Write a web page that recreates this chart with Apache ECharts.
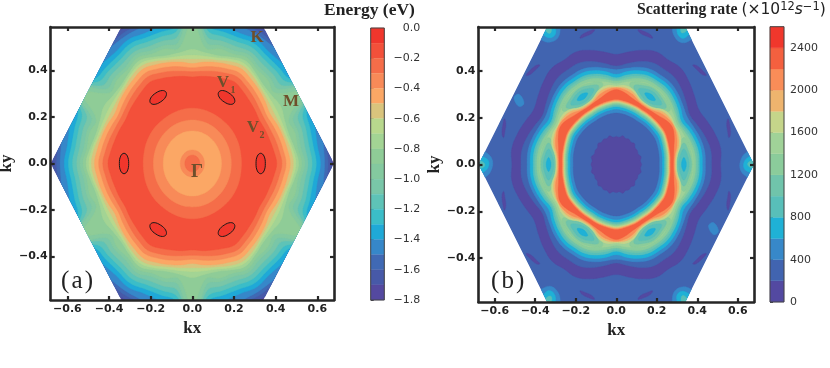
<!DOCTYPE html>
<html>
<head>
<meta charset="utf-8">
<style>html,body{margin:0;padding:0;background:#fff}#chart{width:830px;height:368px}</style>
<script src="https://cdn.jsdelivr.net/npm/echarts@6/dist/echarts.min.js"></script>
</head>
<body>
<div id="chart"></div>
<script>
const xTicks = [-0.6, -0.4, -0.2, 0, 0.2, 0.4, 0.6];
const yTicks = [-0.4, -0.2, 0, 0.2, 0.4];
const energyTicks = [0, -0.2, -0.4, -0.6, -0.8, -1.0, -1.2, -1.4, -1.6, -1.8];
const rateTicks = [0, 400, 800, 1200, 1600, 2000, 2400];

// colourbar bands: energy from 0 eV downwards, rate from 0 upwards
const energyColors = ['#f0362c','#f3503a','#f56d49','#f88a58','#fba765','#d9c47d','#b8d88d','#a3d494','#8fcc97',
  '#84c99f','#79c6a8','#5ec3b7','#3bbdc8','#1fa9d7','#3687c9','#4069b4','#4759a8','#5449a0'];
const rateColors = ['#5349a1','#4164b0','#3788c9','#1fb1d6','#58bfb9','#70c4ab','#8bcc9b','#a0d298','#c5d58a',
  '#eeb46e','#f98d58','#f4603f','#f0372c'];

// hexagonal zone corners in k units
const zoneCorners = [[0.68,0],[0.34,0.589],[-0.34,0.589],[-0.68,0],[-0.34,-0.589],[0.34,-0.589]];

// contour radius read at 0, 7.5, 15, 22.5, 30 degrees from kx (K to M), the rest follows the hexagon's mirrors
// first number is the band painted inside that contour, rows go from outside in
const energyContours = [
  [16, .668,.700,.700,.700,.700],
  [15, .652,.650,.680,.700,.700],
  [14, .635,.635,.650,.700,.700],
  [13, .615,.605,.610,.630,.700],
  [12, .595,.585,.585,.595,.700],
  [11, .575,.565,.565,.575,.700],
  [10, .555,.545,.545,.550,.700],
  [9,  .540,.525,.525,.525,.700],
  [8,  .525,.510,.510,.500,.605],
  [7,  .510,.495,.480,.480,.490],
  [6,  .497,.485,.470,.465,.465],
  [5,  .485,.475,.460,.452,.448],
  [4,  .470,.460,.450,.440,.430],
  [3,  .450,.440,.430,.420,.412],
  [2,  .430,.420,.410,.400,.395],
  [1,  .405,.395,.385,.378,.372],
  [2,  .236,.236,.237,.238,.238],
  [3,  .187,.187,.187,.187,.187],
  [4,  .140,.140,.140,.140,.140],
  [3,  .058,.058,.058,.058,.058],
  [2,  .036,.036,.036,.036,.036]
];
// valley pocket outline around its centre on the kx axis
const valleyCentre = 0.328;
const valleyOutline = [[0,.044],[.016,.032],[.0223,0],[.016,-.032],[0,-.044],[-.016,-.032],[-.0223,0],[-.016,.032]];

const rateContours = [
  [0,  .515,.520,.505,.485,.470],
  [1,  .470,.470,.455,.435,.420],
  [2,  .440,.440,.430,.415,.405],
  [3,  .425,.425,.415,.400,.385],
  [4,  .410,.410,.400,.385,.370],
  [5,  .402,.400,.390,.375,.362],
  [6,  .392,.390,.380,.365,.355],
  [7,  .380,.378,.365,.355,.345],
  [8,  .298,.305,.330,.340,.335],
  [9,  .292,.298,.320,.330,.330],
  [10, .287,.292,.310,.322,.328],
  [11, .282,.286,.295,.310,.320],
  [10, .266,.268,.270,.273,.276],
  [9,  .262,.264,.266,.269,.272],
  [8,  .258,.260,.262,.265,.268],
  [7,  .254,.256,.258,.261,.264],
  [6,  .250,.252,.254,.257,.260],
  [5,  .246,.248,.250,.253,.256],
  [4,  .242,.244,.246,.249,.252],
  [3,  .236,.238,.240,.243,.246],
  [2,  .226,.228,.230,.232,.235],
  [1,  .212,.214,.216,.218,.220],
  [0,  .125,.120,.127,.117,.120]
];
// patches given on the +kx side, repeated every 60 degrees
const rateStreaks = [
  [0, [[.552,.195],[.560,.170],[.564,.130],[.556,.115],[.550,.140],[.545,.175]]],
  [0, [[.552,-.195],[.560,-.170],[.564,-.130],[.556,-.115],[.550,-.140],[.545,-.175]]]
];
const rateTips = [
  [2, [[.680,.062],[.640,.050],[.615,.020],[.612,-.020],[.640,-.050],[.680,-.062]]],
  [3, [[.680,.036],[.650,.030],[.630,.008],[.632,-.018],[.655,-.032],[.680,-.036]]],
  [4, [[.680,.014],[.660,.014],[.648,.002],[.660,-.012],[.680,-.014]]]
];
// these two sit at one place each, not repeated
const rateSpots = [
  [2, [[-.505,.285],[-.480,.300],[-.455,.262],[-.480,.248]]],
  [2, [[.505,-.285],[.480,-.300],[.455,-.262],[.480,-.248]]]
];
const ratePockets = [
  [6, [[.334,.115],[.364,.070],[.378,0],[.364,-.070],[.334,-.115],[.306,-.070],[.292,0],[.306,.070]]],
  [5, [[.334,.092],[.358,.054],[.372,0],[.358,-.054],[.334,-.092],[.310,-.054],[.298,0],[.310,.054]]],
  [4, [[.334,.066],[.352,.038],[.360,0],[.352,-.038],[.334,-.066],[.316,-.038],[.308,0],[.316,.038]]],
  [3, [[.334,.030],[.343,.016],[.346,0],[.343,-.016],[.334,-.030],[.325,-.016],[.322,0],[.325,.016]]]
];

function ringPoints(row) {
  const pts = [];
  for (let s = 0; s < 12; s++) {
    for (let i = 0; i < 4; i++) {
      const r = s % 2 === 0 ? row[1 + i] : row[5 - i];
      const a = (s * 30 + i * 7.5) * Math.PI / 180;
      pts.push([r * Math.cos(a), r * Math.sin(a)]);
    }
  }
  return pts;
}
function turned(pts, deg) {
  const a = deg * Math.PI / 180, c = Math.cos(a), s = Math.sin(a);
  return pts.map(p => [p[0] * c - p[1] * s, p[0] * s + p[1] * c]);
}
const sixTurns = [0, 60, 120, 180, 240, 300];
const repeated = list => sixTurns.flatMap(deg => list.map(p => ({ band: p[0], pts: turned(p[1], deg) })));

const energyShapes = [{ band: 17, pts: zoneCorners, sharp: true }]
  .concat(energyContours.map(row => ({ band: row[0], pts: ringPoints(row) })))
  .concat(sixTurns.map(deg => ({
    band: 0, line: true,
    pts: turned(valleyOutline.map(p => [p[0] + valleyCentre, p[1]]), deg)
  })));

const rateShapes = [{ band: 1, pts: zoneCorners, sharp: true }]
  .concat(repeated(rateStreaks), repeated(rateTips), rateSpots.map(p => ({ band: p[0], pts: p[1] })))
  .concat(rateContours.slice(0, 8).map(row => ({ band: row[0], pts: ringPoints(row) })))
  .concat(repeated(ratePockets))
  .concat(rateContours.slice(8).map(row => ({ band: row[0], pts: ringPoints(row) })));

function contourSeries(idx, shapes, colors) {
  return {
    type: 'custom', xAxisIndex: idx, yAxisIndex: idx, clip: true, silent: true, z: 1,
    coordinateSystem: 'cartesian2d',
    data: shapes.map((s, i) => [i]),
    renderItem: (params, api) => {
      const s = shapes[api.value(0)];
      return {
        type: 'polygon',
        shape: { points: s.pts.map(p => api.coord(p)), smooth: s.sharp ? 0 : 0.4 },
        style: { fill: colors[s.band], stroke: s.line ? '#1a1a1a' : colors[s.band], lineWidth: s.line ? 1 : 0.4 },
        clipPath: { type: 'polygon', shape: { points: zoneCorners.map(p => api.coord(p)) } }
      };
    }
  };
}
function barSeries(idx, edgeOf, colors) {
  const cells = colors.map((c, i) => [edgeOf(i), edgeOf(i + 1), i]);
  return {
    type: 'custom', xAxisIndex: idx, yAxisIndex: idx, silent: true, coordinateSystem: 'cartesian2d',
    data: cells.concat([[edgeOf(0), edgeOf(colors.length), -1]]),
    renderItem: (params, api) => {
      const a = api.coord([0, api.value(0)]), b = api.coord([1, api.value(1)]);
      const band = api.value(2);
      return {
        type: 'rect',
        shape: { x: a[0], y: Math.min(a[1], b[1]), width: b[0] - a[0], height: Math.abs(b[1] - a[1]) },
        style: band < 0 ? { fill: 'none', stroke: '#444', lineWidth: 1 } : { fill: colors[band], stroke: colors[band], lineWidth: 0.3 }
      };
    }
  };
}

const minus = v => String(v).replace('-', '\u2212');
const tickFmt = v => minus(v.toFixed(1));
const frame = { show: true, onZero: false, lineStyle: { color: '#262626', width: 2.6 } };
const axisName = { fontFamily: 'Liberation Serif', fontWeight: 'bold', fontSize: 17, color: '#222' };
const boldTick = { formatter: tickFmt, fontFamily: 'DejaVu Sans', fontWeight: 'bold', fontSize: 11, color: '#222' };
function xAxisOf(grid, name, gap, side) {
  return {
    type: 'value', gridIndex: grid, min: -0.68, max: 0.68, position: side, z: 10,
    name, nameLocation: 'middle', nameGap: gap, nameTextStyle: axisName,
    axisLine: frame, splitLine: { show: false },
    axisTick: { show: true, inside: true, length: 4, customValues: xTicks, lineStyle: { color: '#262626', width: 2.2 } },
    axisLabel: side === 'bottom' ? Object.assign({ customValues: xTicks, margin: 4 }, boldTick) : { show: false, customValues: xTicks }
  };
}
function yAxisOf(grid, name, gap, side) {
  return {
    type: 'value', gridIndex: grid, min: -0.587, max: 0.587, position: side, z: 10,
    name, nameLocation: 'middle', nameGap: gap, nameTextStyle: axisName,
    axisLine: frame, splitLine: { show: false },
    axisTick: { show: true, inside: true, length: 4, customValues: yTicks, lineStyle: { color: '#262626', width: 2.2 } },
    axisLabel: side === 'left' ? Object.assign({ customValues: yTicks, margin: 3 }, boldTick) : { show: false, customValues: yTicks }
  };
}
function barXAxis(grid) {
  return { type: 'value', gridIndex: grid, min: 0, max: 1, show: false };
}
function barYAxis(grid, min, max, ticks, fmt, margin, align) {
  return {
    type: 'value', gridIndex: grid, min, max, position: 'right',
    axisLine: { show: false }, splitLine: { show: false },
    axisTick: { show: true, length: 3, customValues: ticks, lineStyle: { color: '#444', width: 1 } },
    axisLabel: { customValues: ticks, formatter: fmt, margin, align, fontFamily: 'DejaVu Sans', fontSize: 11, color: '#333' }
  };
}

const brown = '#6e4f2b';
const mark = (x, y, text, size) => ({
  type: 'text', x, y, silent: true, z: 100,
  style: { text, fill: brown, font: 'bold ' + size + 'px "Liberation Serif"', align: 'center', verticalAlign: 'middle' }
});
const panelTag = (x, text) => ({
  type: 'text', x, y: 281, silent: true, z: 100,
  style: { text, fill: '#222', font: '25px "Liberation Serif"', align: 'center', verticalAlign: 'middle' }
});

const chart = echarts.init(document.getElementById('chart'), null, { renderer: 'canvas' });
chart.setOption({
  animation: false,
  backgroundColor: '#fff',
  grid: [
    { left: 50.7, top: 27, width: 283.3, height: 273, outerBoundsMode: 'none' },
    { left: 478.5, top: 27, width: 275.5, height: 275, outerBoundsMode: 'none' },
    { left: 370.7, top: 28, width: 13.6, height: 272, outerBoundsMode: 'none' },
    { left: 770, top: 26.7, width: 14, height: 275.3, outerBoundsMode: 'none' }
  ],
  xAxis: [xAxisOf(0, 'kx', 8, 'bottom'), xAxisOf(1, 'kx', 8, 'bottom'), barXAxis(2), barXAxis(3),
    xAxisOf(0, '', 0, 'top'), xAxisOf(1, '', 0, 'top')],
  yAxis: [yAxisOf(0, 'ky', 30, 'left'), yAxisOf(1, 'ky', 14, 'left'),
    barYAxis(2, -1.8, 0, energyTicks, tickFmt, 36, 'right'),
    barYAxis(3, 0, 2600, rateTicks, v => String(v), 6, 'left'),
    yAxisOf(0, '', 0, 'right'), yAxisOf(1, '', 0, 'right')],
  series: [
    contourSeries(0, energyShapes, energyColors),
    contourSeries(1, rateShapes, rateColors),
    barSeries(2, i => -i * 0.1, energyColors),
    barSeries(3, i => i * 200, rateColors),
    // empty series keep the mirrored frame axes alive
    { type: 'line', xAxisIndex: 4, yAxisIndex: 4, data: [] },
    { type: 'line', xAxisIndex: 5, yAxisIndex: 5, data: [] }
  ],
  graphic: [
    { type: 'text', x: 324, y: 10, silent: true, style: { text: 'Energy (eV)', fill: '#222', font: 'bold 17.5px "Liberation Serif"', verticalAlign: 'middle' } },
    { type: 'text', x: 637, y: 10, silent: true, style: {
      text: '{b|Scattering rate }{m|(\u00d710}{u|12}{i|s}{u|\u22121}{m|)}', verticalAlign: 'middle', fill: '#222',
      rich: {
        b: { font: 'bold 15.8px "Liberation Serif"', fill: '#222' },
        m: { font: '15.5px "DejaVu Sans"', fill: '#222' },
        i: { font: 'italic 15.5px "DejaVu Sans"', fill: '#222' },
        u: { font: '11.5px "DejaVu Sans"', fill: '#222', verticalAlign: 'top', lineHeight: 18 }
      }
    } },
    panelTag(77, '(\u200aa\u200a)'),
    panelTag(507.7, '(\u200ab\u200a)'),
    mark(257, 38, 'K', 17),
    mark(223, 83, 'V', 17), mark(233, 90, '1', 10),
    mark(291, 102, 'M', 17),
    mark(253, 128, 'V', 17), mark(262, 135, '2', 10),
    mark(197, 172, '\u0393', 19)
  ]
});
</script>
</body>
</html>
